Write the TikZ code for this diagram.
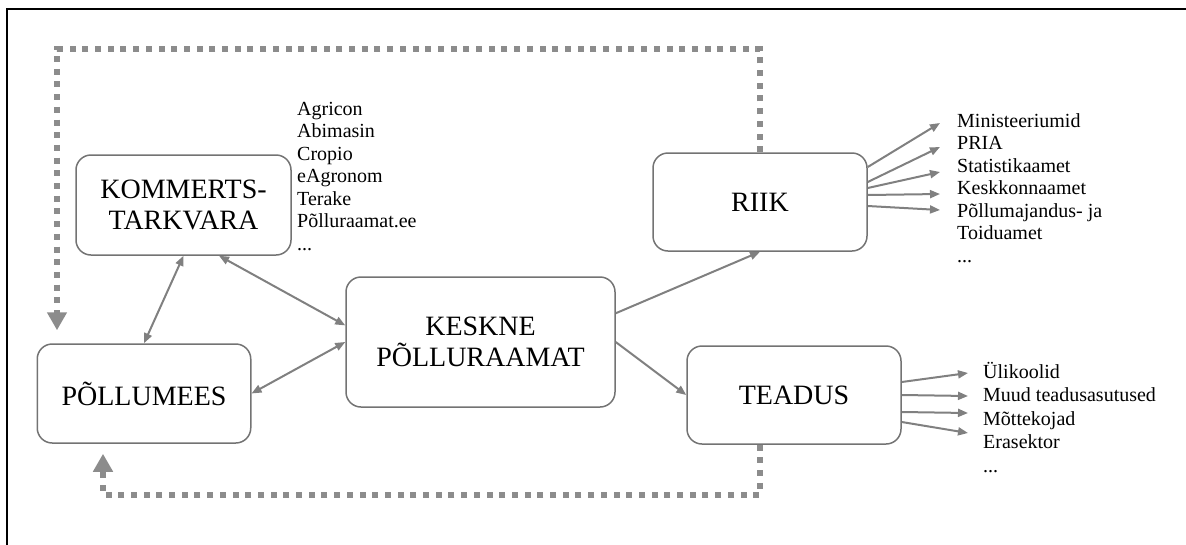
\documentclass[tikz,border=0pt]{standalone}
\usepackage{fontspec}
\setmainfont{Liberation Serif}
\usetikzlibrary{arrows.meta,positioning,calc}
\definecolor{boxline}{RGB}{115,115,115}
\definecolor{arrowgray}{RGB}{128,128,128}
\definecolor{dotgray}{RGB}{140,140,140}

\begin{document}
\begin{tikzpicture}[x=1pt,y=-1pt,
    box/.style={draw=boxline,line width=1.5pt,rounded corners=15pt,
      inner sep=0pt,align=center,font=\fontsize{28}{31}\selectfont},
    listitem/.style={anchor=west,inner sep=0pt,text height=14pt,
      text depth=4pt,font=\fontsize{20}{22}\selectfont},
    twoway/.style={draw=arrowgray,line width=2pt,
      {Triangle[length=10pt,width=8pt]}-{Triangle[length=10pt,width=8pt]}},
    oneway/.style={draw=arrowgray,line width=2pt,-{Triangle[length=10pt,width=8pt]}},
    feedback/.style={draw=dotgray,line width=6pt,dash pattern=on 6pt off 6.7pt,
      -{Triangle[length=18pt,width=19pt]}}]
  \useasboundingbox (0,0) rectangle (1186,544);
  \draw[line width=1.5pt] (7,550) -- (7,9) -- (1190,9);

  % main boxes
  \node[box,minimum width=215pt,minimum height=100pt] (komm) at (183.5,205) {KOMMERTS-\\TARKVARA};
  \node[box,minimum width=213.5pt,minimum height=99pt] (pollu) at (144,393.5) {PÕLLUMEES};
  \node[box,minimum width=269pt,minimum height=130pt] (keskne) at (480.5,342) {KESKNE\\PÕLLURAAMAT};
  \node[box,minimum width=214pt,minimum height=98pt] (riik) at (760,202) {RIIK};
  \node[box,minimum width=214pt,minimum height=98pt] (teadus) at (794,395) {TEADUS};

  % lists
  \foreach \t [count=\i] in {Agricon,Abimasin,Cropio,eAgronom,Terake,Põlluraamat.ee}
    \node[listitem] (sw\i) at (297,87.5+22.5*\i) {\t};
  \node[listitem] (sw7) at (297,245) {...};
  \foreach \t [count=\i] in {Ministeeriumid,PRIA,Statistikaamet,Keskkonnaamet,Põllumajandus- ja,Toiduamet}
    \node[listitem] (ri\i) at (957,99.5+22.5*\i) {\t};
  \node[listitem] (ri7) at (957,257) {...};
  \foreach \t [count=\i] in {Ülikoolid,Muud teadusasutused,Mõttekojad,Erasektor}
    \node[listitem] (te\i) at (983,349.5+23.5*\i) {\t};
  \node[listitem] (te5) at (983,467) {...};

  % connectors
  \draw[twoway] (komm.south) -- (pollu.north);
  \draw[twoway] (komm.-55) -- (keskne.173);
  \draw[twoway] (pollu.east) -- (keskne.west);
  \draw[oneway] (keskne.12) -- (riik.south);
  \draw[oneway] (keskne.east) -- (teadus.west);
  \foreach \i/\a/\b in {1/-35/1,2/-20/2.5,3/-14/5,4/-7/4.5,5/4/-2}
    \draw[oneway] ($(riik.east)+(0,\a)$) -- ($(ri\i.west)+(-17,\b)$);
  \foreach \i/\a/\b in {1/-13/0,2/0/-0.5,3/17/-7,4/27/-10.5}
    \draw[oneway] ($(teadus.east)+(0,\a)$) -- ($(te\i.west)+(-15,\b)$);

  % feedback loops
  \draw[feedback] (riik.north) -- ++(0,-103) -| ($(pollu.north west)+(20.5,-13)$);
  \draw[feedback] (riik |- teadus.south) -- ++(0,50) -| ($(pollu.south)+(-41,10)$);
\end{tikzpicture}
\end{document}
